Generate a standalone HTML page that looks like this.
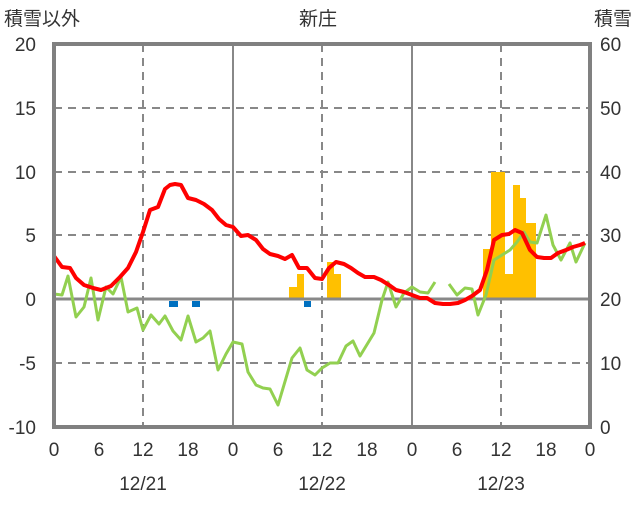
<!DOCTYPE html>
<html><head><meta charset="utf-8"><style>
body{margin:0;background:#fff}
svg text{font-family:"Liberation Sans","Noto Sans CJK JP",sans-serif;font-size:19px;fill:#333}
</style></head><body>
<svg width="636" height="501" viewBox="0 0 636 501">
<g stroke="#888" stroke-width="2" stroke-dasharray="8,6">
<line x1="54" y1="108" x2="590" y2="108"/><line x1="54" y1="172" x2="590" y2="172"/>
<line x1="54" y1="235" x2="590" y2="235"/><line x1="54" y1="363" x2="590" y2="363"/>
<line x1="143" y1="44" x2="143" y2="427"/><line x1="322" y1="44" x2="322" y2="427"/><line x1="501" y1="44" x2="501" y2="427"/>
</g>
<g stroke="#888" stroke-width="2"><line x1="233" y1="44" x2="233" y2="427"/><line x1="412" y1="44" x2="412" y2="427"/></g>
<g fill="#FFC000">
<rect x="289" y="287" width="8" height="12"/><rect x="297" y="274" width="7" height="25"/>
<rect x="327" y="262" width="7" height="37"/><rect x="334" y="274" width="7" height="25"/>
<rect x="483" y="249" width="8" height="50"/><rect x="491" y="172" width="14" height="127"/>
<rect x="505" y="274" width="8" height="25"/><rect x="513" y="185" width="7" height="114"/>
<rect x="520" y="198" width="6" height="101"/><rect x="526" y="223" width="10" height="76"/>
</g>
<line x1="54" y1="299" x2="590" y2="299" stroke="#888" stroke-width="3"/>
<g fill="#0070C0"><rect x="169" y="301" width="9" height="6"/><rect x="192" y="301" width="8" height="6"/><rect x="304" y="301" width="7" height="6"/></g>
<g fill="none" stroke-width="3" stroke-linejoin="round" stroke="#92D050">
<polyline points="54,294 62,295 68,276 76,317 84,307 91,278 98,320 106,287 113,294 121,277 128,312 137,308 143,330 151,315 159,324 165,316 173,331 181,340 188,316 196,342 203,338 210,331 218,370 226,354 233,342 242,344 248,372 256,385 263,388 270,389 278,405 292,358 300,348 307,370 315,375 322,368 330,363 338,363 346,346 353,341 360,356 374,333 382,300 388,282 396,307 404,293 412,287 420,292 428,293 435,282"/>
<polyline points="449,284 457,295 465,288 472,289 478,315 486,295 494,260 502,255 510,250 517,242 524,232 530,242 537,243 546,215 553,245 561,260 570,243 576,262 585,243"/>
</g>
<polyline fill="none" stroke="#FF0000" stroke-width="4" stroke-linejoin="round" points="54,256 62,267 70,268 76,278 84,285 93,288 101,290 111,286 120,277 128,268 136,252 143,232 150,210 158,207 165,189 170,185 175,184 181,185 188,198 196,200 204,204 212,210 219,219 226,225 233,227 241,236 248,235 256,240 263,249 270,254 278,256 285,259 292,255 299,268 307,268 315,278 322,279 329,268 336,262 344,264 351,268 358,273 365,277 374,277 381,280 389,285 396,290 404,292 412,295 420,298 427,298 435,303 443,304 450,304 458,303 465,300 472,296 480,290 487,270 494,240 502,235 509,234 515,230 522,233 530,250 537,257 544,258 551,258 558,253 566,250 573,247 580,245 585,243"/>
<line x1="54" y1="427" x2="590" y2="427" stroke="#7030A0" stroke-width="3"/>
<rect x="54" y="44" width="536" height="383" fill="none" stroke="#808080" stroke-width="4"/>
<g text-anchor="end">
<text x="36" y="51">20</text><text x="36" y="115">15</text><text x="36" y="179">10</text><text x="36" y="242">5</text><text x="36" y="306">0</text><text x="36" y="370">-5</text><text x="36" y="434">-10</text>
</g>
<g text-anchor="start">
<text x="600" y="51">60</text><text x="600" y="115">50</text><text x="600" y="179">40</text><text x="600" y="242">30</text><text x="600" y="306">20</text><text x="600" y="370">10</text><text x="600" y="434">0</text>
</g>
<g text-anchor="middle">
<text x="54" y="456">0</text><text x="99" y="456">6</text><text x="143" y="456">12</text><text x="188" y="456">18</text><text x="233" y="456">0</text><text x="278" y="456">6</text><text x="322" y="456">12</text><text x="367" y="456">18</text><text x="412" y="456">0</text><text x="457" y="456">6</text><text x="501" y="456">12</text><text x="546" y="456">18</text><text x="590" y="456">0</text>
<text x="143" y="490">12/21</text><text x="322" y="490">12/22</text><text x="501" y="490">12/23</text>
<text x="318" y="25">新庄</text>
</g>
<text x="4" y="25">積雪以外</text>
<text x="632" y="25" text-anchor="end">積雪</text>
</svg>
</body></html>
